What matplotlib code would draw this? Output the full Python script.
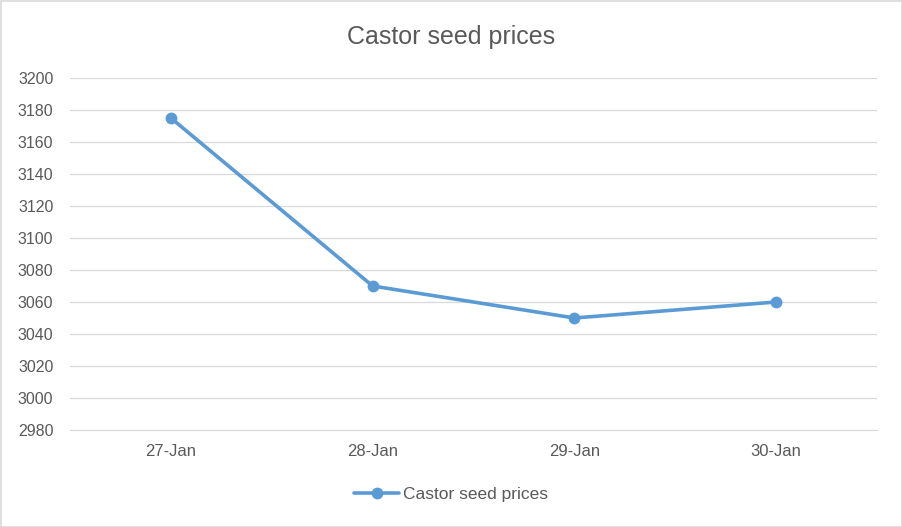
import matplotlib
matplotlib.use("Agg")
import matplotlib.pyplot as plt
from matplotlib.patches import Rectangle

dates = ["27-Jan", "28-Jan", "29-Jan", "30-Jan"]
prices = [3175, 3070, 3050, 3060]
y_ticks = list(range(2980, 3201, 20))

plt.rcParams['font.family'] = ['Liberation Sans', 'DejaVu Sans']
text_color = '#595959'
line_color = '#5B9BD5'

fig = plt.figure(figsize=(9.02, 5.27), dpi=100)
ax = fig.add_axes([70 / 902, 1 - 430 / 527, 807 / 902, 352 / 527])

x = list(range(len(dates)))
ax.plot(x, prices, color=line_color, linewidth=2.6, marker='o', markersize=7.5,
        label='Castor seed prices', solid_capstyle='round', zorder=3)

ax.set_xlim(-0.5, len(dates) - 0.5)
ax.set_ylim(2980, 3200)
ax.set_yticks(y_ticks)
ax.set_xticks(x)
ax.set_xticklabels(dates)
ax.grid(axis='y', color='#D9D9D9', linewidth=0.9)
ax.set_axisbelow(True)
for s in ['top', 'right', 'left']:
    ax.spines[s].set_visible(False)
ax.spines['bottom'].set_color('#D9D9D9')
ax.tick_params(axis='x', length=0, labelsize=12, colors=text_color, pad=10)
ax.tick_params(axis='y', length=0, labelsize=11.5, colors=text_color, pad=12)

fig.text(0.5, 1 - 37 / 527, 'Castor seed prices', ha='center', va='center',
         fontsize=18, color=text_color)

fig.legend(loc='center', bbox_to_anchor=(0.5, 1 - 494 / 527), frameon=False,
           fontsize=12.5, labelcolor=text_color, handlelength=2.6, handletextpad=0.2)

# outer border of the chart area
fig.patches.append(Rectangle((0.5 / 902, 0.5 / 527), 901 / 902, 526 / 527,
                             transform=fig.transFigure, fill=False,
                             edgecolor='#D9D9D9', linewidth=1.2))

fig.savefig('out.png', dpi=100)
